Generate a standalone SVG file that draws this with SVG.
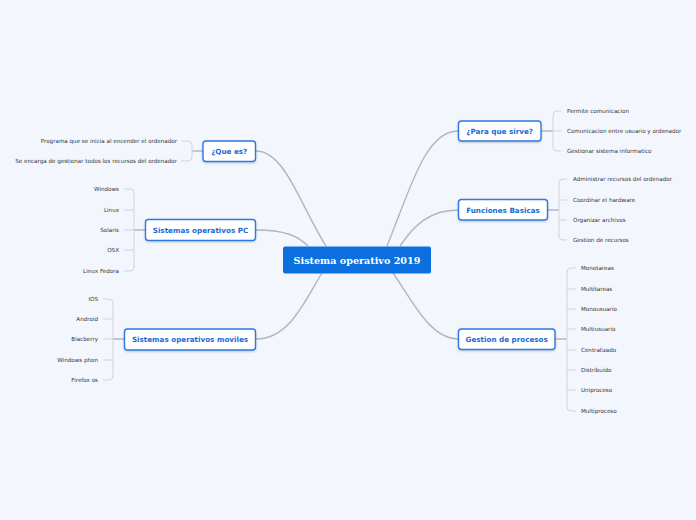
<svg xmlns="http://www.w3.org/2000/svg" width="696" height="520" viewBox="0 0 696 520">
<defs>
<filter id="sh" x="-10%" y="-20%" width="120%" height="150%">
<feDropShadow dx="0" dy="1" stdDeviation="0.8" flood-color="#000" flood-opacity="0.2"/>
</filter>
</defs>
<style>
.bg{fill:#f3f6fd}
.con{fill:none;stroke:#b4b4bc;stroke-width:1.4}
.brk{fill:none;stroke:#d2d4dc;stroke-width:1}
.stem{fill:none;stroke:#a8a8b0;stroke-width:1.2}
.node rect{fill:#fff;stroke:#2a7ae2;stroke-width:1.4}
.node text{font-family:"DejaVu Sans",Verdana,sans-serif;font-weight:bold;font-size:7.2px;fill:#1a6ad4;text-anchor:middle}
.leaf{font-family:"DejaVu Sans",Verdana,sans-serif;font-size:5.6px;fill:#333}
.end{text-anchor:end}
.root rect{fill:#0b6fe0}
.root text{font-family:"DejaVu Serif",Georgia,serif;font-weight:bold;font-size:9.6px;fill:#fff;text-anchor:middle}
</style>
<rect class="bg" x="0" y="0" width="696" height="520"/>
<g id="connectors">
<path class="con" d="M256,151 C285,151 300,205 326,246"/>
<path class="con" d="M256,230 C285,230 298,236 308,246"/>
<path class="con" d="M256,339 C290,339 305,300 322,273"/>
<path class="con" d="M458,131 C425,131 410,190 387,246"/>
<path class="con" d="M458,210 C430,210 414,225 400,246"/>
<path class="con" d="M458,339 C430,339 412,300 393,273"/>
<path class="stem" d="M203,151 H192"/>
<path class="brk" d="M181,141 H188 Q192,141 192,145 V157 Q192,161 188,161 H181"/>
<path class="stem" d="M145,230 H134"/>
<path class="brk" d="M124,189 H130 Q134,189 134,193 V267 Q134,271 130,271 H124 M124,210 H134 M124,230 H134 M124,250 H134"/>
<path class="stem" d="M124,339 H113"/>
<path class="brk" d="M103,299 H109 Q113,299 113,303 V376 Q113,380 109,380 H103 M103,319 H113 M103,339 H113 M103,360 H113"/>
<path class="stem" d="M541,131 H553"/>
<path class="brk" d="M561,111 H557 Q553,111 553,115 V147 Q553,151 557,151 H561 M553,131 H561"/>
<path class="stem" d="M548,210 H559"/>
<path class="brk" d="M567,179 H563 Q559,179 559,183 V236 Q559,240 563,240 H567 M559,200 H567 M559,220 H567"/>
<path class="stem" d="M555,339 H567"/>
<path class="brk" d="M576,268 H571 Q567,268 567,272 V407 Q567,411 571,411 H576 M567,289 H576 M567,309 H576 M567,329 H576 M567,350 H576 M567,370 H576 M567,390 H576"/>
</g>
<g id="root" class="root">
<rect x="283" y="246.5" width="148" height="27" rx="2"/>
<text x="357" y="263.6">Sistema operativo 2019</text>
</g>
<g id="que-es" class="node">
<rect x="203" y="141" width="52.5" height="20.5" rx="3" filter="url(#sh)"/>
<text x="229.2" y="154">¿Que es?</text>
</g>
<g id="que-es-leaves">
<text class="leaf end" x="177" y="143">Programa que se inicia al encender el ordenador</text>
<text class="leaf end" x="177" y="163">Se encarga de gestionar todos los recursos del ordenador</text>
</g>
<g id="so-pc" class="node">
<rect x="145.5" y="219.5" width="110" height="21" rx="3" filter="url(#sh)"/>
<text x="200.5" y="232.7">Sistemas operativos PC</text>
</g>
<g id="so-pc-leaves">
<text class="leaf end" x="119" y="191">Windows</text>
<text class="leaf end" x="119" y="212">Linux</text>
<text class="leaf end" x="119" y="232">Solaris</text>
<text class="leaf end" x="119" y="252">OSX</text>
<text class="leaf end" x="119" y="273">Linux Fedora</text>
</g>
<g id="so-moviles" class="node">
<rect x="124.5" y="329" width="131" height="21" rx="3" filter="url(#sh)"/>
<text x="190" y="342.2">Sistemas operativos moviles</text>
</g>
<g id="so-moviles-leaves">
<text class="leaf end" x="98" y="301">IOS</text>
<text class="leaf end" x="98" y="321">Android</text>
<text class="leaf end" x="98" y="341">Blacberry</text>
<text class="leaf end" x="98" y="362">Windows phon</text>
<text class="leaf end" x="98" y="382">Firefox os</text>
</g>
<g id="para-que" class="node">
<rect x="458.5" y="121" width="82.5" height="20" rx="3" filter="url(#sh)"/>
<text x="499.7" y="133.7">¿Para que sirve?</text>
</g>
<g id="para-que-leaves">
<text class="leaf" x="567" y="113">Permite comunicacion</text>
<text class="leaf" x="567" y="133">Comunicacion entre usuario y ordenador</text>
<text class="leaf" x="567" y="153">Gestionar sistema informatico</text>
</g>
<g id="funciones" class="node">
<rect x="458.5" y="199.5" width="89" height="20.5" rx="3" filter="url(#sh)"/>
<text x="503" y="212.5">Funciones Basicas</text>
</g>
<g id="funciones-leaves">
<text class="leaf" x="573" y="181">Administrar recursos del ordenador</text>
<text class="leaf" x="573" y="202">Coordinar el hardware</text>
<text class="leaf" x="573" y="222">Organizar archivos</text>
<text class="leaf" x="573" y="242">Gestion de recursos</text>
</g>
<g id="gestion" class="node">
<rect x="458.5" y="329" width="96.5" height="20.5" rx="3" filter="url(#sh)"/>
<text x="506.7" y="342">Gestion de procesos</text>
</g>
<g id="gestion-leaves">
<text class="leaf" x="581" y="270">Monotareas</text>
<text class="leaf" x="581" y="291">Multitareas</text>
<text class="leaf" x="581" y="311">Monousuario</text>
<text class="leaf" x="581" y="331">Multiusuario</text>
<text class="leaf" x="581" y="352">Centralizado</text>
<text class="leaf" x="581" y="372">Distribuido</text>
<text class="leaf" x="581" y="392">Uniproceso</text>
<text class="leaf" x="581" y="413">Multiproceso</text>
</g>
</svg>
